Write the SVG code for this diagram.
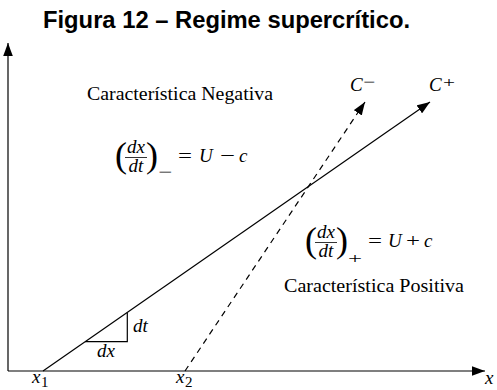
<svg xmlns="http://www.w3.org/2000/svg" width="497" height="390" viewBox="0 0 497 390">
<defs>
<style>
.title{font-family:"Liberation Sans",Arial,sans-serif;font-weight:bold;font-size:23px;fill:#000}
.rm{font-family:"Liberation Serif","Times New Roman",serif;font-size:19px;fill:#000}
.it{font-family:"Liberation Serif","Times New Roman",serif;font-style:italic;font-size:19px;fill:#000}
.par{font-family:"Liberation Serif","Times New Roman",serif;font-size:36px;fill:#000}
.sub{font-family:"Liberation Serif","Times New Roman",serif;font-size:15px;fill:#000}
.ln{stroke:#000;stroke-width:1.2;fill:none}
.dash{stroke-dasharray:6 5}
</style>
<marker id="ah" markerUnits="userSpaceOnUse" markerWidth="14" markerHeight="10" viewBox="0 -5 14 10" refX="13" refY="0" orient="auto">
<path d="M13,0 L0,-4.8 L0,4.8 z" fill="#000"/>
</marker>
</defs>
<rect width="497" height="390" fill="#fff"/>
<text class="title" x="43" y="28" textLength="367" lengthAdjust="spacingAndGlyphs">Figura 12 – Regime supercrítico.</text>
<g id="axes">
<line class="ln" x1="8" y1="371" x2="8" y2="43" marker-end="url(#ah)"/>
<line class="ln" x1="8" y1="371" x2="485" y2="371" marker-end="url(#ah)"/>
</g>
<g id="connectors">
<line id="cplus" class="ln" x1="43" y1="371" x2="430" y2="102" marker-end="url(#ah)"/>
<line id="cminus" class="ln dash" x1="185" y1="371" x2="365" y2="102" marker-end="url(#ah)"/>
<polyline id="triangle" class="ln" points="85,341.7 127.3,341.7 127.3,312.5"/>
</g>
<g id="labels">
<text class="it" x="350" y="91">C</text><text class="sub" x="363" y="87" textLength="12" lengthAdjust="spacingAndGlyphs">−</text>
<text class="it" x="429" y="91">C</text><text class="sub" x="443" y="87" textLength="12" lengthAdjust="spacingAndGlyphs">+</text>
<text class="rm" x="87" y="100" textLength="186" lengthAdjust="spacingAndGlyphs">Característica Negativa</text>
<text class="rm" x="284" y="292" textLength="180" lengthAdjust="spacingAndGlyphs">Característica Positiva</text>
<text class="it" x="133" y="332">dt</text>
<text class="it" x="97" y="357">dx</text>
<text class="it" x="32" y="383">x</text><text class="sub" x="41" y="387">1</text>
<text class="it" x="176" y="383">x</text><text class="sub" x="185" y="387">2</text>
<text class="it" x="485" y="384">x</text>
</g>
<g id="eq-minus">
<text class="par" x="115" y="167">(</text>
<text class="it" x="136" y="153" text-anchor="middle">dx</text>
<line x1="125" y1="157.5" x2="147" y2="157.5" stroke="#000" stroke-width="0.8"/>
<text class="it" x="136" y="172" text-anchor="middle">dt</text>
<text class="par" x="146" y="167">)</text>
<text class="sub" x="158" y="177" textLength="14" lengthAdjust="spacingAndGlyphs">−</text>
<text class="rm" x="178" y="162" textLength="14" lengthAdjust="spacingAndGlyphs">=</text>
<text class="it" x="199" y="162">U</text>
<text class="rm" x="220" y="162" textLength="15" lengthAdjust="spacingAndGlyphs">−</text>
<text class="it" x="239" y="162">c</text>
</g>
<g id="eq-plus">
<text class="par" x="305" y="252">(</text>
<text class="it" x="326" y="238" text-anchor="middle">dx</text>
<line x1="315" y1="242.5" x2="337" y2="242.5" stroke="#000" stroke-width="0.8"/>
<text class="it" x="326" y="257" text-anchor="middle">dt</text>
<text class="par" x="336" y="252">)</text>
<text class="sub" x="348" y="263" textLength="14" lengthAdjust="spacingAndGlyphs">+</text>
<text class="rm" x="368" y="247" textLength="14" lengthAdjust="spacingAndGlyphs">=</text>
<text class="it" x="388" y="247">U</text>
<text class="rm" x="406" y="247" textLength="14" lengthAdjust="spacingAndGlyphs">+</text>
<text class="it" x="424" y="247">c</text>
</g>
</svg>
